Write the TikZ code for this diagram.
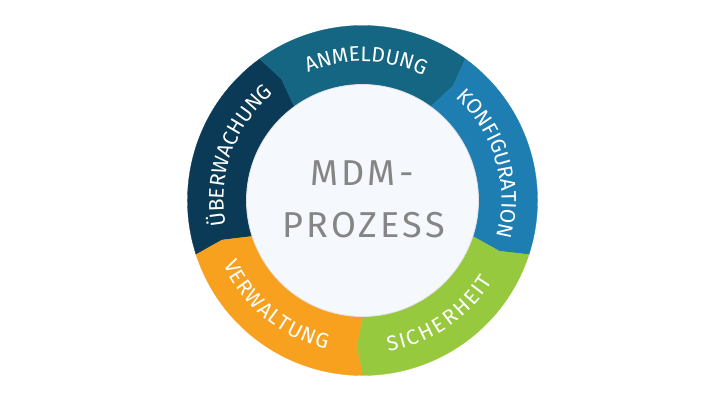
\documentclass[tikz,border=0pt]{standalone}
\usepackage{fontspec}
\setmainfont{Fira Sans}
\usetikzlibrary{decorations.text}
\definecolor{cUber}{HTML}{0A3A55}
\definecolor{cAnm}{HTML}{146682}
\definecolor{cKonf}{HTML}{1F7EB1}
\definecolor{cSich}{HTML}{97C93E}
\definecolor{cVerw}{HTML}{F8A11E}
\definecolor{cInner}{HTML}{F5F9FD}
\definecolor{cText}{HTML}{858585}
\newcommand\ringseg[3]{%
  \fill[#1,draw=#1,line width=0.3pt] (#2:\Ro) arc[start angle=#2, end angle=#3, radius=\Ro]
    -- ({#3-\dk}:\Rm) -- (#3:\Ri) arc[start angle=#3, end angle=#2, radius=\Ri]
    -- ({#2-\dk}:\Rm) -- cycle;}
\newcommand\toplabel[3]{%
  \path[decorate,decoration={text along path,text align=center,text color=white,
    raise={139pt-#2pt},text={|\ringfont|#3}}]
    ({#1+75}:#2) arc[start angle={#1+75}, end angle={#1-75}, radius=#2];}
\newcommand\botlabel[3]{%
  \path[decorate,decoration={text along path,text align=center,text color=white,
    raise={#2pt-153pt},text={|\ringfont|#3}}]
    ({#1-80}:#2) arc[start angle={#1-80}, end angle={#1+80}, radius=#2];}
\newcommand\ringfont{\fontsize{21}{21}\selectfont}
\begin{document}
\begin{tikzpicture}[x=1pt,y=1pt,
  centertext/.style={anchor=base,text=cText,inner sep=0pt,
    font=\fontsize{36}{36}\selectfont\addfontfeatures{LetterSpace=9}}]
\def\Ro{175}\def\Ri{116}\def\Rm{146}\def\dk{2.3}
\useasboundingbox[fill=white] (-362.5,-200.5) rectangle (364.5,200.5);
\ringseg{cUber}{198}{126}
\ringseg{cAnm}{126}{54}
\ringseg{cKonf}{54}{-18}
\ringseg{cSich}{-18}{-90}
\ringseg{cVerw}{270}{198}
\node[circle,fill=cInner,draw=black!12,line width=0.8pt,minimum size=232pt,inner sep=0pt] (core) at (0,0) {};
\node[centertext] (mdm) at (-0.5,15) {MDM-};
\node[centertext] (proz) at (1,-36.7) {PROZESS};
\toplabel{88.5}{139}{ANMELDUNG}
\toplabel{16.5}{142}{KONFIGURATION}
\toplabel{160}{139}{ÜBERWACHUNG}
\botlabel{-56}{128}{SICHERHEIT}
\botlabel{-129.5}{140}{VERWALTUNG}
\end{tikzpicture}
\end{document}
